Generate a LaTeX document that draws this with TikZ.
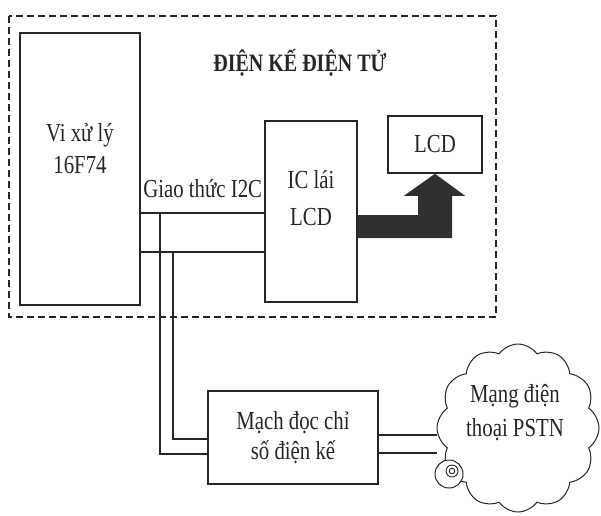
\documentclass[tikz,border=0pt]{standalone}
\usepackage{fontspec}
\setmainfont{Liberation Serif}[FakeStretch=0.8]
\usepackage{tikz}
\usetikzlibrary{calc,shapes.symbols}
\definecolor{InkGray}{HTML}{262626}
\definecolor{ArrowGray}{HTML}{303030}

\begin{document}
\begin{tikzpicture}[x=1pt,y=-1pt,
  box/.style={draw=InkGray,line width=1.5pt,inner sep=0pt},
  bus/.style={InkGray,line width=1.5pt},
  lbl/.style={font=\fontsize{26}{32}\selectfont,align=center,inner sep=0pt,text=InkGray}]
  \useasboundingbox (0,0) rectangle (601,515);
  % vung dien ke
  \draw[InkGray,line width=1.6pt,dash pattern=on 7pt off 4pt] (9,16) rectangle (496,317);
  \node[font=\bfseries\fontsize{25}{30}\selectfont,text=InkGray] (title) at (300,63) {ĐIỆN KẾ ĐIỆN TỬ};
  % cac khoi
  \node[box,minimum width=120pt,minimum height=272pt] (cpu) at (80,169) {};
  \node[lbl] (cputext) at ($(cpu.center)+(0,-20)$) {Vi xử lý\\16F74};
  \node[box,minimum width=92pt,minimum height=181pt] (drv) at (311,211.5) {};
  \node[lbl,font=\fontsize{26}{37}\selectfont] (drvtext) at ($(drv.center)+(0,-13)$) {IC lái\\LCD};
  \node[box,lbl,draw=InkGray,line width=1.5pt,minimum width=94pt,minimum height=57pt] (lcd) at (435,144.5) {LCD};
  \node[box,lbl,draw=InkGray,line width=1.5pt,font=\fontsize{26}{30}\selectfont,
        minimum width=170pt,minimum height=93pt] (meter) at (293,437.5) {Mạch đọc chỉ\\số điện kế};
  \node[cloud,draw=InkGray,line width=1pt,cloud puffs=12,cloud puff arc=110,
        minimum width=162pt,minimum height=168pt,inner sep=0pt] (pstn) at (518,428) {};
  \node[lbl,font=\fontsize{26}{34}\selectfont] (pstntext) at ($(pstn.center)+(-3,-15)$) {Mạng điện\\thoại PSTN};
  \node[circle,draw=InkGray,fill=white,line width=1pt,minimum size=28pt,inner sep=0pt] (jack) at (449,474) {};
  \draw[InkGray,line width=0.9pt] ($(jack.center)+(3,-3)$) circle (6pt) circle (2.8pt);
  % bus I2C
  \coordinate (sda) at (cpu.east |- 0,213);
  \coordinate (scl) at (cpu.east |- 0,252);
  \draw[bus] (sda) -- (drv.west |- sda);
  \draw[bus] (scl) -- (drv.west |- scl);
  \node[lbl,anchor=base east] (i2c) at ($(drv.west |- sda)+(-2,-16)$) {Giao thức I2C};
  \draw[bus] (sda -| 160,0) |- (meter.west |- 0,454);
  \draw[bus] (scl -| 173,0) |- (meter.west |- 0,439);
  % duong day dien thoai
  \draw[bus] (meter.east |- 0,435) -- (pstn.west |- 0,435);
  \draw[bus] (meter.east |- 0,453) -- (pstn.west |- 0,453);
  % mui ten lon
  \fill[ArrowGray] (drv.east |- 0,215) -| ($(lcd.south)+(-17,22)$) -- ++(-14,0) -- (lcd.south)
      -- ++(30,22) -- ++(-13,0) |- (drv.east |- 0,238) -- cycle;
\end{tikzpicture}
\end{document}
